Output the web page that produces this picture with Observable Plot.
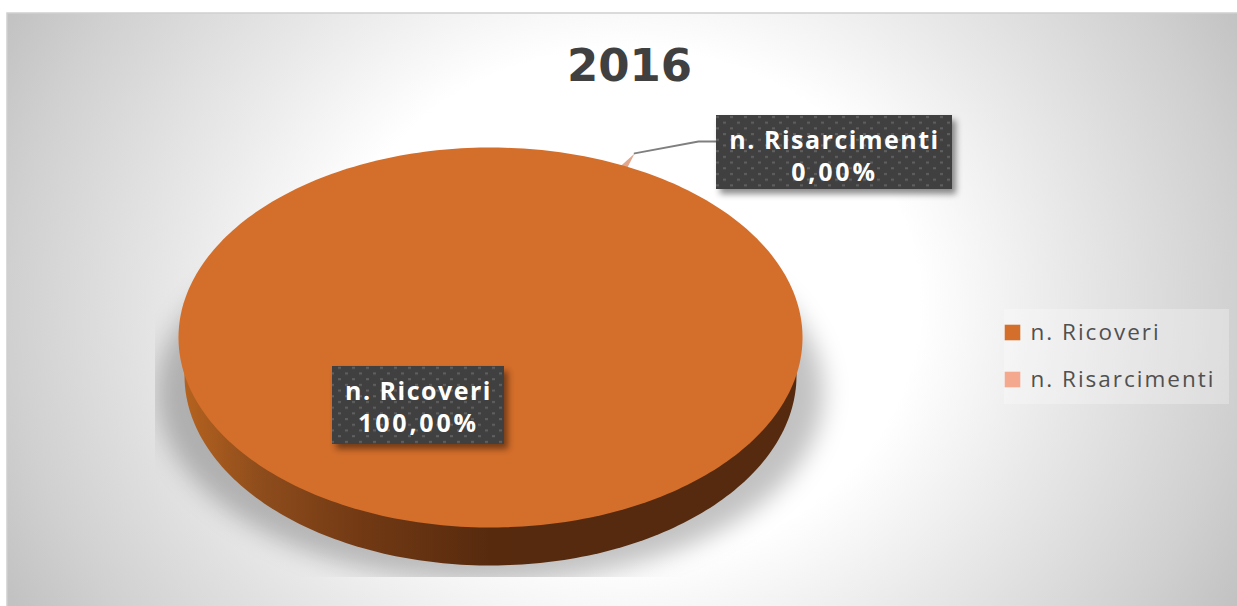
<!DOCTYPE html>
<html>
<head>
<meta charset="utf-8">
<script src="https://cdn.jsdelivr.net/npm/d3@7"></script>
<script src="https://cdn.jsdelivr.net/npm/@observablehq/plot@0.6"></script>
<style>html,body{margin:0;padding:0;background:#fff;overflow:hidden}svg{display:block}</style>
</head>
<body>
<div id="chart"></div>
<script>
const title = "2016";
const categories = ["n. Ricoveri", "n. Risarcimenti"];
const shares = [100, 0];
const shareLabels = ["100,00%", "0,00%"];
const colors = ["#d46e2b", "#f4a98f"];

const W = 1237, H = 606;
const pie = {cx: 490, cy: 337, rx: 312, ry: 190, depth: 38, sideRx: 306, rotation: 0.445};
const slices = d3.pie().sort(null).startAngle(pie.rotation).endAngle(pie.rotation + 2 * Math.PI)(shares);

function arcPoints(s, cx, cy, rx, ry) {
  const n = Math.max(1, Math.ceil((s.endAngle - s.startAngle) / 0.02));
  return d3.range(n + 1).map(i => {
    const a = s.startAngle + (s.endAngle - s.startAngle) * i / n;
    return {x: cx + rx * Math.sin(a), y: cy - ry * Math.cos(a)};
  });
}
const polar = (a, r) => ({x: pie.cx + r * pie.rx * Math.sin(a), y: pie.cy - r * pie.ry * Math.cos(a)});
const full = slices[0];
const topOutline = arcPoints(full, pie.cx, pie.cy, pie.rx, pie.ry);
const sideOutline = arcPoints(full, pie.cx, pie.cy + pie.depth, pie.sideRx, pie.ry);
const shadowOutline = arcPoints(full, pie.cx, 392, 333, 190);

// the zero-width slice shows only as a small tip past the rim at its own angle
const a0 = slices[1].startAngle;
const tip = polar(a0, 1.073);
const sliver = [polar(a0 - 0.014, 0.98), tip, polar(a0 + 0.014, 0.98)];
const leader = [tip, {x: 698, y: 141}, {x: 716, y: 141}];

const boxes = [
  {x1: 332, x2: 504, y1: 366, y2: 444, i: 0},
  {x1: 716, x2: 952, y1: 115, y2: 189, i: 1}
];
const nameRows = boxes.map(b => ({x: (b.x1 + b.x2) / 2, y: b.y1 + 25, t: categories[b.i]}));
const shareRows = boxes.map(b => ({x: (b.x1 + b.x2) / 2, y: b.y1 + 57, t: shareLabels[b.i]}));
const legendRows = categories.map((c, i) => ({c, color: colors[i], y: 332 + i * 47}));

const spaced = v => (index, scales, values, dims, ctx, next) => {
  const g = next(index, scales, values, dims, ctx);
  g.setAttribute("letter-spacing", v);
  return g;
};

const defs = () => {
  const g = d3.create("svg:defs");
  g.html(`
    <radialGradient id="bg" gradientUnits="userSpaceOnUse" cx="0" cy="0" r="1"
      gradientTransform="translate(625 305) scale(700 610)">
      <stop offset="0" stop-color="#ffffff"/><stop offset="0.42" stop-color="#ffffff"/>
      <stop offset="0.63" stop-color="#e9e9e9"/><stop offset="0.88" stop-color="#d0d0d0"/>
      <stop offset="1" stop-color="#c2c2c2"/>
    </radialGradient>
    <linearGradient id="side" x1="0" x2="1" y1="0" y2="0">
      <stop offset="0" stop-color="#b4621f"/><stop offset="0.12" stop-color="#8f4d1c"/>
      <stop offset="0.28" stop-color="#733a14"/><stop offset="0.5" stop-color="#572a0e"/>
      <stop offset="1" stop-color="#552a0e"/>
    </linearGradient>
    <pattern id="dots" patternUnits="userSpaceOnUse" width="14" height="11.4">
      <rect width="14" height="11.4" fill="#404040"/>
      <rect x="2" y="2" width="3" height="2" fill="#606060"/>
      <rect x="9" y="7.7" width="3" height="2" fill="#606060"/>
    </pattern>
    <clipPath id="shadowClip"><rect x="155" y="200" width="720" height="377"/></clipPath>`);
  return g.node();
};

const chart = Plot.plot({
  width: W, height: H,
  margin: 0,
  style: {background: "transparent"},
  x: {domain: [0, W], range: [0, W], axis: null},
  y: {domain: [0, H], range: [0, H], axis: null},
  marks: [
    defs,
    Plot.rect([{x1: 7, x2: W + 2, y1: 13, y2: H + 2}], {x1: "x1", x2: "x2", y1: "y1", y2: "y2", fill: "url(#bg)", stroke: "#cfcfcf", strokeWidth: 1.5}),
    Plot.line(shadowOutline, {x: "x", y: "y", fill: "#000", fillOpacity: 0.24, stroke: "none", imageFilter: "blur(12px)",
      render(index, scales, values, dims, ctx, next) {
        const g = next(index, scales, values, dims, ctx);
        const w = document.createElementNS("http://www.w3.org/2000/svg", "g");
        w.setAttribute("clip-path", "url(#shadowClip)");
        w.appendChild(g);
        return w;
      }}),
    Plot.line(sideOutline, {x: "x", y: "y", fill: "url(#side)", stroke: "none"}),
    Plot.line(sliver, {x: "x", y: "y", fill: "#e2a78c", stroke: "none"}),
    Plot.line(topOutline, {x: "x", y: "y", fill: colors[0], stroke: "none"}),
    Plot.line(leader, {x: "x", y: "y", stroke: "#7f7f7f", strokeWidth: 1.8, curve: "linear"}),
    Plot.rect(boxes, {x1: "x1", x2: "x2", y1: "y1", y2: "y2", fill: "url(#dots)", imageFilter: "drop-shadow(4px 5px 3px rgba(0,0,0,0.45))"}),
    Plot.text(nameRows, {x: "x", y: "y", text: "t", fill: "#fff", fontSize: 25, fontWeight: 700, fontFamily: "Open Sans", textAnchor: "middle", render: spaced(1.5)}),
    Plot.text(shareRows, {x: "x", y: "y", text: "t", fill: "#fff", fontSize: 25, fontWeight: 700, fontFamily: "Open Sans", textAnchor: "middle", render: spaced(2.8)}),
    Plot.text([title], {x: 629, y: 66, text: d => d, fill: "#404040", fontSize: 45, fontWeight: 700, fontFamily: "DejaVu Sans", textAnchor: "middle"}),
    Plot.rect([{x1: 1004, x2: 1229, y1: 309, y2: 404}], {x1: "x1", x2: "x2", y1: "y1", y2: "y2", fill: "#fff", fillOpacity: 0.27}),
    Plot.dot(legendRows, {x: 1012, y: "y", symbol: "square", r: 8.8, fill: "color", stroke: "none"}),
    Plot.text(legendRows, {x: 1030, y: "y", text: "c", fill: "#505050", fontSize: 22.5, fontFamily: "Open Sans", textAnchor: "start", render: spaced(2)})
  ]
});
document.getElementById("chart").appendChild(chart);
</script>
</body>
</html>
